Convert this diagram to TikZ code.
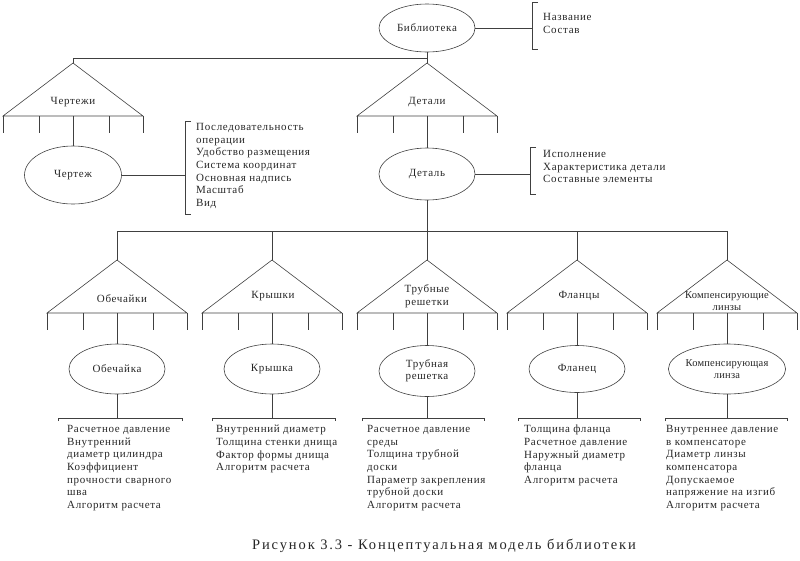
\documentclass[tikz,border=0pt]{standalone}
\usepackage{fontspec}
\usetikzlibrary{shapes.geometric}
\setmainfont[LetterSpace=6]{Liberation Serif}
\begin{document}
\begin{tikzpicture}[x=1pt,y=-1pt,
  ln/.style={draw=black!75,line width=0.6pt},
  txt/.style={font=\fontsize{11}{12.7}\selectfont,text=black!85,inner sep=0pt},
  ell/.style={ellipse,ln,minimum width=96pt,minimum height=50pt,inner sep=0pt,
     font=\fontsize{11}{12}\selectfont,text=black!85,align=center},
  lst/.style={txt,align=left,anchor=north west},
  tlab/.style={txt,align=center}
]
\useasboundingbox (0,0) rectangle (800,560);
% ---- ellipses
\node[ell,minimum height=48pt] (lib) at (427,28) {Библиотека};
\node[ell,minimum width=97pt,minimum height=58pt] (cher) at (73,175) {Чертеж};
\node[ell,minimum height=52pt] (det) at (427,174) {Деталь};
\node[ell] (obe) at (117,369) {Обечайка};
\node[ell] (kry) at (272,369) {Крышка};
\node[ell,minimum height=51pt] (tru) at (427,371) {Трубная\\решетка};
\node[ell,minimum height=47pt] (fla) at (577,369) {Фланец};
\node[ell,font=\fontsize{10.5}{12}\selectfont\addfontfeatures{LetterSpace=2}] (kom) at (727,369) {Компенсирующая\\линза};
% ---- coordinates
\coordinate (jTop) at (427,58);
\coordinate (jBot) at (427,231);
\foreach \n/\x/\y in {chA/73/63,deA/427/63,obA/117/260,krA/272/260,trA/427/260,flA/577/260,koA/727/260}
  \coordinate (\n) at (\x,\y);
\foreach \n/\x/\y in {chB/73/116,deB/427/116,obB/117/313,krB/272/313,trB/427/313,flB/577/313,koB/727/313}
  \coordinate (\n) at (\x,\y);
% ---- triangles with ticks
\foreach \b in {chB,deB,obB,krB,trB,flB,koB}{
  \draw[ln] (\b) ++(-70,0) -- ++(0,17);
  \draw[ln] (\b) ++(-34,0) -- ++(0,17);
  \draw[ln] (\b) ++(36,0) -- ++(0,17);
  \draw[ln] (\b) ++(70,0) -- ++(0,17);
}
\foreach \a/\b in {chA/chB,deA/deB,obA/obB,krA/krB,trA/trB,flA/flB,koA/koB}
  \draw[ln] (\a) -- ([xshift=-70]\b) -- ([xshift=70]\b) -- cycle;
% ---- triangle labels
\node[tlab] (lch) at (73,102) {Чертежи};
\node[tlab] (lde) at (427,102) {Детали};
\node[tlab] (lob) at (122,299) {Обечайки};
\node[tlab] (lkr) at (273,296) {Крышки};
\node[tlab] (ltr) at (427,296) {Трубные\\решетки};
\node[tlab] (lfl) at (579,296) {Фланцы};
\node[tlab,font=\fontsize{10.5}{12}\selectfont\addfontfeatures{LetterSpace=2}] (lko) at (727,301) {Компенсирующие\\линзы};
% ---- tree connectors
\draw[ln] (lib) -- (jTop);
\draw[ln] (chA) |- (jTop);
\draw[ln] (jTop) -- (deA);
\draw[ln] (det) -- (jBot);
\foreach \a in {obA,krA,flA,koA} \draw[ln] (\a) |- (jBot);
\draw[ln] (jBot) -- (trA);
\draw[ln] (chB) -- (cher);
\draw[ln] (deB) -- (det);
\draw[ln] (obB) -- (obe);
\draw[ln] (krB) -- (kry);
\draw[ln] (trB) -- (tru);
\draw[ln] (flB) -- (fla);
\draw[ln] (koB) -- (kom);
% ---- side brackets
\coordinate (libBr) at (532,28);
\coordinate (chBr) at (185,175);
\coordinate (deBr) at (530,174);
\draw[ln] (lib) -- (libBr);
\draw[ln] (cher) -- (chBr);
\draw[ln] (det) -- (deBr);
\draw[ln] (538,2) -- (532,2) -- (532,49) -- (538,49);
\draw[ln] (191,121) -- (185,121) -- (185,214) -- (191,214);
\draw[ln] (536,147) -- (530,147) -- (530,194) -- (536,194);
\node[lst] (tlib) at (543,13) {Название\\Состав};
\node[lst] (tch) at (196,123) {Последовательность\\операции\\Удобство размещения\\Система координат\\Основная надпись\\Масштаб\\Вид};
\node[lst] (tde) at (543,150) {Исполнение\\Характеристика детали\\Составные элементы};
% ---- bottom brackets
\foreach \e/\x/\l/\r in {obe/117/58/182,kry/272/212/335,tru/427/362/484,fla/577/518/640,kom/727/665/787}{
  \coordinate (\e Br) at (\x,418);
  \draw[ln] (\e) -- (\e Br);
  \draw[ln] (\l,421) -- (\l,418) -- (\r,418) -- (\r,421);
}
\node[lst] (tob) at (67,425) {Расчетное давление\\Внутренний\\диаметр цилиндра\\Коэффициент\\прочности сварного\\шва\\Алгоритм расчета};
\node[lst] (tkr) at (216,425) {Внутренний диаметр\\Толщина стенки днища\\Фактор формы днища\\Алгоритм расчета};
\node[lst] (ttr) at (367,425) {Расчетное давление\\среды\\Толщина трубной\\доски\\Параметр закрепления\\трубной доски\\Алгоритм расчета};
\node[lst] (tfl) at (524,425) {Толщина фланца\\Расчетное давление\\Наружный диаметр\\фланца\\Алгоритм расчета};
\node[lst] (tko) at (666,425) {Внутреннее давление\\в компенсаторе\\Диаметр линзы\\компенсатора\\Допускаемое\\напряжение на изгиб\\Алгоритм расчета};
% ---- caption
\node[txt,font=\fontsize{14.5}{16}\selectfont\addfontfeatures{LetterSpace=13}] (cap) at (444,546) {Рисунок 3.3 - Концептуальная модель библиотеки};
\end{tikzpicture}
\end{document}
